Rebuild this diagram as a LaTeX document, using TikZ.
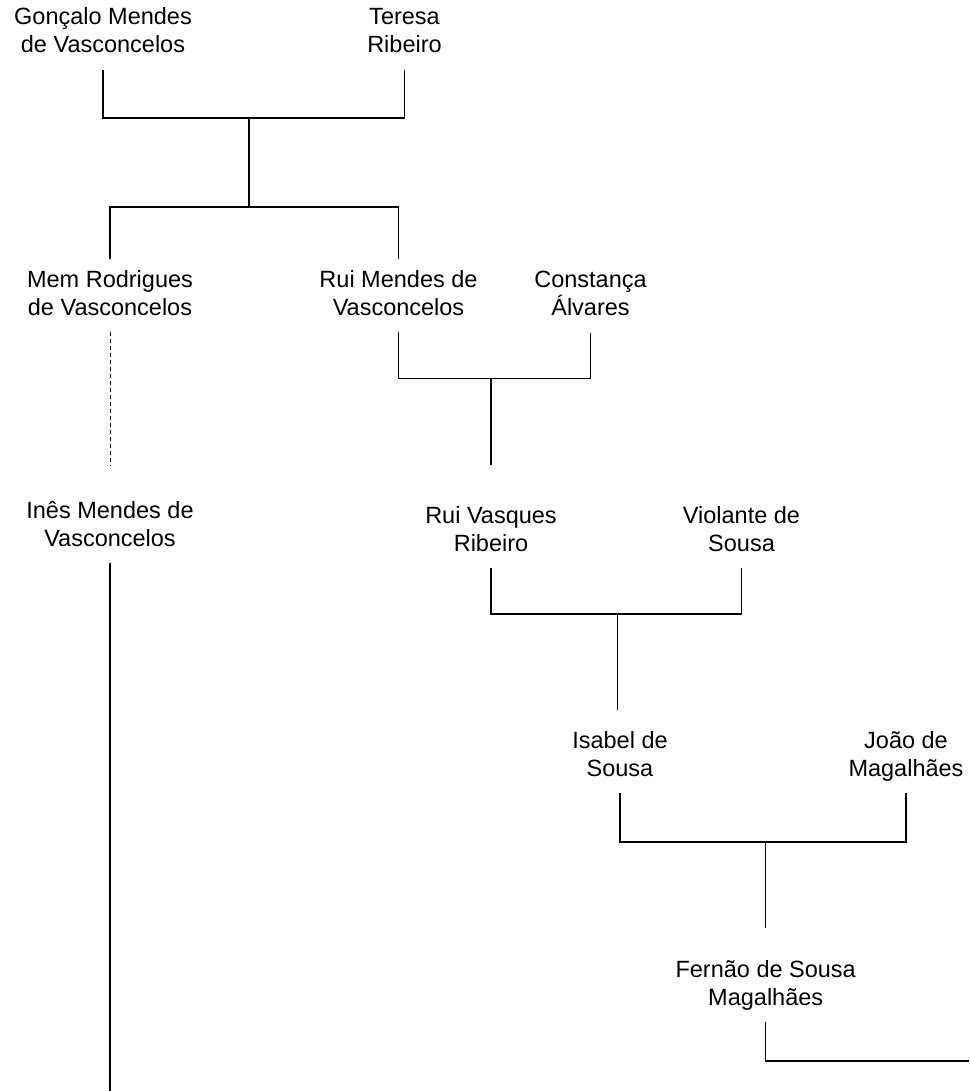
\documentclass[tikz,border=0pt]{standalone}
\usepackage{fontspec}
\setmainfont{Liberation Sans}
\newcommand\twoline[2]{\begin{tabular}[t]{@{}c@{}}#1\\#2\end{tabular}}
\begin{document}
\begin{tikzpicture}[x=1pt,y=-1pt,
  person/.style={inner xsep=0pt, inner ysep=8.5pt, outer sep=0pt, anchor=base,
    font=\fontsize{23.5}{28}\selectfont},
  link/.style={line width=1.1pt, black},
  dashlink/.style={line width=1pt, black, dash pattern=on 4pt off 3pt}]
\useasboundingbox (0,0) rectangle (969,1091);

% people
\node[person] (gon)  at (103,25)   {\twoline{Gonçalo Mendes}{de Vasconcelos}};
\node[person] (ter)  at (404.5,25) {\twoline{Teresa}{Ribeiro}};
\node[person] (mem)  at (110,287)  {\twoline{Mem Rodrigues}{de Vasconcelos}};
\node[person] (rui)  at (398.5,287){\twoline{Rui Mendes de}{Vasconcelos}};
\node[person] (con)  at (590.5,287){\twoline{Constança}{Álvares}};
\node[person] (ines) at (110,518)  {\twoline{Inês Mendes de}{Vasconcelos}};
\node[person] (rvr)  at (491,523)  {\twoline{Rui Vasques}{Ribeiro}};
\node[person] (vio)  at (741.5,523){\twoline{Violante de}{Sousa}};
\node[person] (isa)  at (620,748)  {\twoline{Isabel de}{Sousa}};
\node[person] (joao) at (906,748)  {\twoline{João de}{Magalhães}};
\node[person] (fer)  at (765.7,977){\twoline{Fernão de Sousa}{Magalhães}};

% junctions and free ends
\coordinate (m1) at (249,118);
\coordinate (c1) at (249,207);
\coordinate (m2) at (491,378.7);
\coordinate (m3) at (617.7,614);
\coordinate (m4) at (765.7,842);
\coordinate (iend) at (110,1091);
\coordinate (fend) at (969,1061);

% connectors
\draw[link] (gon.south) |- (m1) -| (ter.south);
\draw[link] (m1) -- (c1);
\draw[link] (mem.north) |- (c1) -| (rui.north);
\draw[dashlink, shorten >=24pt] (mem.south) -- (ines.north);
\draw[link] (rui.south) |- (m2) -| (con.south);
\draw[link, shorten >=30pt] (m2) -- (rvr.north);
\draw[link] (ines.south) -- (iend);
\draw[link] (rvr.south) |- (m3) -| (vio.south);
\draw[link, shorten >=10pt] (m3) -- (m3 |- isa.north);
\draw[link] (isa.south) |- (m4) -| (joao.south);
\draw[link, shorten >=21pt] (m4) -- (fer.north);
\draw[link] (fer.south) |- (fend);
\end{tikzpicture}
\end{document}
